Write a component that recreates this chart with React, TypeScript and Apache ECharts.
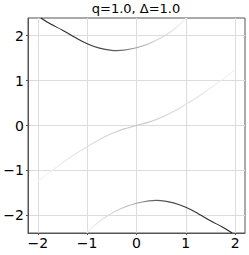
import React, { useEffect, useRef } from "react";
import * as echarts from "echarts";

const titleText = "q=1.0, \u0394=1.0";
const xTicks = [-2, -1, 0, 1, 2];
const yTicks = [-2, -1, 0, 1, 2];

const upperBand: [number, number][] = [
  [-1.94, 2.39], [-1.75, 2.26], [-1.5, 2.12], [-1.25, 1.96], [-1.0, 1.82],
  [-0.75, 1.72], [-0.5, 1.67], [-0.4, 1.665], [-0.25, 1.675], [0, 1.73],
  [0.25, 1.82], [0.5, 1.95], [0.75, 2.13], [1.01, 2.39],
];
const middleBand: [number, number][] = [
  [-2, -1.24], [-1.75, -1.03], [-1.5, -0.83], [-1.25, -0.64], [-1, -0.47],
  [-0.75, -0.31], [-0.5, -0.18], [-0.25, -0.075], [0, 0], [0.25, 0.075],
  [0.5, 0.18], [0.75, 0.31], [1, 0.47], [1.25, 0.64], [1.5, 0.83],
  [1.75, 1.03], [2, 1.24],
];
const lowerBand: [number, number][] = [
  [-1.01, -2.39], [-0.75, -2.13], [-0.5, -1.95], [-0.25, -1.82], [0, -1.73],
  [0.25, -1.675], [0.4, -1.665], [0.5, -1.67], [0.75, -1.72], [1.0, -1.82],
  [1.25, -1.96], [1.5, -2.12], [1.75, -2.26], [1.94, -2.39],
];

// colour along x (weight shading): [x, colour]
const upperShade: [number, string][] = [
  [-1.94, "#222222"], [-1.0, "#363636"], [-0.4, "#606060"], [0, "#a0a0a0"], [0.4, "#d2d2d2"], [1.01, "#f2f2f2"],
];
const middleShade: [number, string][] = [
  [-2, "#f4f4f4"], [-1, "#e0e0e0"], [0, "#c4c4c4"], [1, "#e0e0e0"], [2, "#f4f4f4"],
];
const lowerShade: [number, string][] = [
  [-1.01, "#f2f2f2"], [-0.4, "#d2d2d2"], [0, "#a0a0a0"], [0.4, "#606060"], [1.0, "#363636"], [1.94, "#222222"],
];

const FONT = "DejaVu Sans";
const fmt = (v: number) => (v < 0 ? "\u2212" + Math.abs(v) : String(v));

export default function App() {
  const ref = useRef<HTMLDivElement>(null);
  useEffect(() => {
    if (!ref.current) return;
    const chart = echarts.init(ref.current, undefined, { renderer: "svg" });
    const lineSeries = (data: [number, number][], color: any) => ({
      type: "line",
      data,
      smooth: 0.4,
      showSymbol: false,
      symbol: "none",
      clip: true,
      lineStyle: { width: 1.1, color },
      silent: true,
    });
    chart.setOption({
      animation: false,
      backgroundColor: "#fff",
      graphic: [
        {
          type: "text",
          x: 136,
          y: 2,
          style: {
            text: titleText,
            font: `13px "${FONT}"`,
            fill: "#000",
            textAlign: "center",
            align: "center",
            textVerticalAlign: "top",
            verticalAlign: "top",
          },
        },
      ],
      grid: { left: 28, right: 4, top: 18, bottom: 22, show: true, borderColor: "#555", borderWidth: 1 },
      xAxis: {
        type: "value", min: -2.2, max: 2.2,
        axisLine: { show: true, onZero: false, lineStyle: { color: "#555", width: 1 } },
        axisTick: { show: true, length: 2, customValues: xTicks, lineStyle: { color: "#555" } },
        axisLabel: { customValues: xTicks, formatter: fmt, margin: 3, color: "#000", fontFamily: FONT, fontSize: 14 },
        splitLine: { show: true, lineStyle: { color: "#dcdcdc", width: 1 } },
      },
      yAxis: {
        type: "value", min: -2.39, max: 2.39,
        axisLine: { show: true, onZero: false, lineStyle: { color: "#555", width: 1 } },
        axisTick: { show: true, length: 2, customValues: yTicks, lineStyle: { color: "#555" } },
        axisLabel: { customValues: yTicks, formatter: fmt, margin: 4, color: "#000", fontFamily: FONT, fontSize: 14 },
        splitLine: { show: true, lineStyle: { color: "#dcdcdc", width: 1 } },
      },
      series: [
        lineSeries(middleBand, "#ccc"),
        lineSeries(upperBand, "#555"),
        lineSeries(lowerBand, "#555"),
      ],
    });
    const shadeGrad = (shade: [number, string][]) => {
      const x0 = chart.convertToPixel({ gridIndex: 0 }, [shade[0][0], 0])[0];
      const x1 = chart.convertToPixel({ gridIndex: 0 }, [shade[shade.length - 1][0], 0])[0];
      const span = x1 - x0;
      return new echarts.graphic.LinearGradient(
        x0, 0, x1, 0,
        shade.map(([x, color]) => ({
          offset: (chart.convertToPixel({ gridIndex: 0 }, [x, 0])[0] - x0) / span,
          color,
        })),
        true
      );
    };
    chart.setOption({
      series: [
        { lineStyle: { color: shadeGrad(middleShade) } },
        { lineStyle: { color: shadeGrad(upperShade) } },
        { lineStyle: { color: shadeGrad(lowerShade) } },
      ],
    });
    return () => chart.dispose();
  }, []);
  return (
    <div ref={ref} style={{ position: "fixed", left: 0, top: 0, width: 249, height: 255, background: "#fff" }} />
  );
}
